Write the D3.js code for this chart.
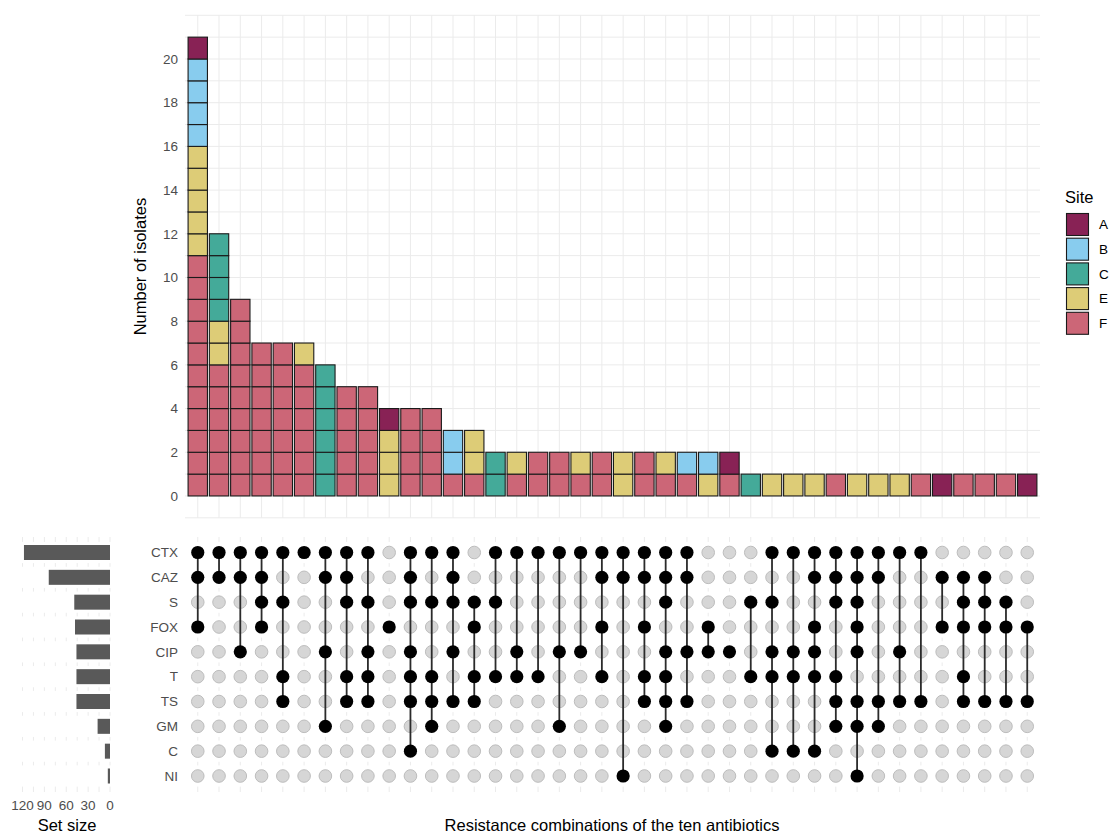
<!DOCTYPE html>
<html><head><meta charset="utf-8">
<script src="https://cdn.jsdelivr.net/npm/d3@7"></script>
<style>
body{margin:0;background:#fff}
text{font-family:"Liberation Sans",Arial,sans-serif}
</style>
</head><body>
<svg id="chart" width="1110" height="835"></svg>
<script>
// ---------------- DATA ----------------
const sets = ["CTX","CAZ","S","FOX","CIP","T","TS","GM","C","NI"];
const sites = ["A","B","C","E","F"];
const siteColors = ["#882255","#88CCEE","#44AA99","#DDCC77","#CC6677"];
const combos = [
  ["CTX","CAZ","FOX"],
  ["CTX","CAZ"],
  ["CTX","CAZ","CIP"],
  ["CTX","CAZ","S","FOX"],
  ["CTX","S","T","TS"],
  ["CTX"],
  ["CTX","CAZ","CIP","GM"],
  ["CTX","CAZ","S","T","TS"],
  ["CTX","S","CIP","T","TS"],
  ["FOX"],
  ["CTX","CAZ","S","CIP","T","TS","C"],
  ["CTX","S","T","TS","GM"],
  ["CTX","CAZ","S","CIP","TS"],
  ["S","FOX","T","TS"],
  ["CTX","S","T"],
  ["CTX","CIP","T"],
  ["CTX","T"],
  ["CTX","CIP","GM"],
  ["CTX","CIP"],
  ["CTX","CAZ","FOX","T"],
  ["CTX","CAZ","NI"],
  ["CTX","CAZ","FOX","T","TS"],
  ["CTX","CAZ","S","CIP","T","TS","GM"],
  ["CTX","CAZ","CIP","TS"],
  ["FOX","CIP"],
  ["CIP"],
  ["S","T"],
  ["CTX","S","CIP","T","C"],
  ["CTX","CIP","T","C"],
  ["CTX","CAZ","FOX","CIP","T","C"],
  ["CTX","CAZ","S","T","TS","GM"],
  ["CTX","CAZ","S","FOX","CIP","TS","GM","NI"],
  ["CTX","CAZ","TS","GM"],
  ["CTX","CIP","TS"],
  ["CTX","TS"],
  ["CAZ","FOX"],
  ["CAZ","S","FOX","T","TS"],
  ["CAZ","S","FOX","TS"],
  ["S","FOX","TS"],
  ["FOX","TS"]
];
const countA = [1,0,0,0,0,0,0,0,0,1, 0,0,0,0,0,0,0,0,0,0, 0,0,0,0,0,1,0,0,0,0, 0,0,0,0,0,1,0,0,0,1];
const countB = [4,0,0,0,0,0,0,0,0,0, 0,0,2,0,0,0,0,0,0,0, 0,0,0,1,1,0,0,0,0,0, 0,0,0,0,0,0,0,0,0,0];
const countC = [0,4,0,0,0,0,6,0,0,0, 0,0,0,0,2,0,0,0,0,0, 0,0,0,0,0,0,1,0,0,0, 0,0,0,0,0,0,0,0,0,0];
const countE = [5,2,0,0,0,1,0,0,0,3, 0,0,0,2,0,1,0,0,1,0, 2,0,1,0,1,0,0,1,1,1, 0,1,1,1,0,0,0,0,0,0];
const countF = [11,6,9,7,7,6,0,5,5,0, 4,4,1,1,0,1,2,2,1,2, 0,2,1,1,0,1,0,0,0,0, 1,0,0,0,1,0,1,1,1,0];
const yTicks = [0,2,4,6,8,10,12,14,16,18,20];
const sizeTicks = [120,90,60,30,0];

// ---------------- CHART ----------------
const svg = d3.select("#chart");
const seriesBySite = {A:countA,B:countB,C:countC,E:countE,F:countF};
const colorOf = d3.scaleOrdinal().domain(sites).range(siteColors);
const idx = d3.range(combos.length);
const totals = idx.map(i => sites.reduce((s,k)=>s+seriesBySite[k][i],0));
const setSizes = sets.map(s => idx.reduce((acc,i)=> acc + (combos[i].includes(s)?totals[i]:0),0));

const gridCol = "#ebebeb";
const tickCol = "#4d4d4d";

// x scale for columns
const x = d3.scalePoint().domain(idx).range([185,1040]).padding(0.6);
const step = x.step();
const barW = step*0.91;

// top panel
const yTop = d3.scaleLinear().domain([-1,22]).range([517.8,15.3]);
const topG = svg.append("g");
topG.selectAll("line.h").data(d3.range(-1,23)).join("line")
  .attr("x1",185).attr("x2",1040)
  .attr("y1",d=>yTop(d)).attr("y2",d=>yTop(d))
  .attr("stroke",gridCol).attr("stroke-width",1);
topG.selectAll("line.v").data(idx).join("line")
  .attr("x1",d=>x(d)).attr("x2",d=>x(d))
  .attr("y1",yTop(22)).attr("y2",yTop(-1))
  .attr("stroke",gridCol).attr("stroke-width",1);

// tiles: one per isolate, stacked F (bottom), E, C, B, A (top)
const stackOrder = ["F","E","C","B","A"];
const tiles = [];
idx.forEach(i=>{
  let level = 0;
  stackOrder.forEach(s=>{
    const n = seriesBySite[s][i];
    for(let k=0;k<n;k++){ tiles.push({i, site:s, lv:level}); level++; }
  });
});
topG.selectAll("rect.tile").data(tiles).join("rect")
  .attr("x",d=>x(d.i)-barW/2)
  .attr("width",barW)
  .attr("y",d=>yTop(d.lv+1))
  .attr("height",d=>yTop(d.lv)-yTop(d.lv+1))
  .attr("fill",d=>colorOf(d.site))
  .attr("stroke","#1a1a1a").attr("stroke-width",1.1);

topG.selectAll("text.yt").data(yTicks).join("text")
  .attr("x",178).attr("y",d=>yTop(d)).attr("dy","0.35em")
  .attr("text-anchor","end").attr("font-size",13.5).attr("fill",tickCol)
  .text(d=>d);
topG.append("text")
  .attr("transform",`translate(146,${yTop(10.5)}) rotate(-90)`)
  .attr("text-anchor","middle").attr("font-size",16.5).attr("fill","#000")
  .text("Number of isolates");

// matrix panel
const yRow = d3.scalePoint().domain(sets).range([552.5,776]);
const mTop = 537, mBot = 792;
const mat = svg.append("g");
mat.selectAll("line.mv").data(idx).join("line")
  .attr("x1",d=>x(d)).attr("x2",d=>x(d)).attr("y1",mTop).attr("y2",mBot)
  .attr("stroke",gridCol).attr("stroke-width",1);
const xs = d3.scaleLinear().domain([0,120]).range([110,22.5]);
const sizeGrid = d3.range(0,121,15);
mat.selectAll("line.sv").data(sizeGrid).join("line")
  .attr("x1",d=>xs(d)).attr("x2",d=>xs(d)).attr("y1",mTop).attr("y2",mBot)
  .attr("stroke",gridCol).attr("stroke-width",1);
mat.selectAll("rect.stripe").data(sets).join("rect")
  .attr("x",0).attr("width",1045)
  .attr("y",d=>yRow(d)-10.6).attr("height",21.2)
  .attr("fill","#fff");

mat.selectAll("rect.sz").data(sets).join("rect")
  .attr("x",(d,i)=>xs(setSizes[i])).attr("width",(d,i)=>xs(0)-xs(setSizes[i]))
  .attr("y",d=>yRow(d)-7.5).attr("height",15)
  .attr("fill","#595959");
mat.selectAll("text.szt").data(sizeTicks).join("text")
  .attr("x",d=>xs(d)).attr("y",810)
  .attr("text-anchor","middle").attr("font-size",13.5).attr("fill",tickCol)
  .text(d=>d);
mat.append("text").attr("x",67).attr("y",831)
  .attr("text-anchor","middle").attr("font-size",16.5).attr("fill","#000")
  .text("Set size");

mat.selectAll("text.rl").data(sets).join("text")
  .attr("x",178).attr("y",d=>yRow(d)).attr("dy","0.35em")
  .attr("text-anchor","end").attr("font-size",13.5).attr("fill",tickCol)
  .text(d=>d);

const cells = [];
idx.forEach(i=> sets.forEach(s=> cells.push({i,s,on:combos[i].includes(s)})));
mat.selectAll("circle.off").data(cells.filter(c=>!c.on)).join("circle")
  .attr("cx",d=>x(d.i)).attr("cy",d=>yRow(d.s)).attr("r",6.3)
  .attr("fill","#d6d6d6").attr("stroke","#bdbdbd").attr("stroke-width",1);
mat.selectAll("line.conn").data(idx.filter(i=>combos[i].length>1)).join("line")
  .attr("x1",d=>x(d)).attr("x2",d=>x(d))
  .attr("y1",d=>d3.min(combos[d],s=>yRow(s)))
  .attr("y2",d=>d3.max(combos[d],s=>yRow(s)))
  .attr("stroke","#2b2b2b").attr("stroke-width",1.8);
mat.selectAll("circle.on").data(cells.filter(c=>c.on)).join("circle")
  .attr("cx",d=>x(d.i)).attr("cy",d=>yRow(d.s)).attr("r",6.6)
  .attr("fill","#000");

svg.append("text").attr("x",612).attr("y",831)
  .attr("text-anchor","middle").attr("font-size",16.5).attr("fill","#000")
  .text("Resistance combinations of the ten antibiotics");

const lg = svg.append("g").attr("transform","translate(1065,0)");
lg.append("text").attr("x",0).attr("y",203).attr("font-size",16.5).attr("fill","#000").text("Site");
lg.selectAll("rect.key").data(sites).join("rect")
  .attr("x",1.5).attr("y",(d,i)=>213.5+i*24.7).attr("width",22).attr("height",22)
  .attr("fill",d=>colorOf(d)).attr("stroke","#1a1a1a").attr("stroke-width",1.1);
lg.selectAll("text.kl").data(sites).join("text")
  .attr("x",34).attr("y",(d,i)=>224.5+i*24.7).attr("dy","0.35em")
  .attr("font-size",13.5).attr("fill","#000").text(d=>d);
</script>
</body></html>
